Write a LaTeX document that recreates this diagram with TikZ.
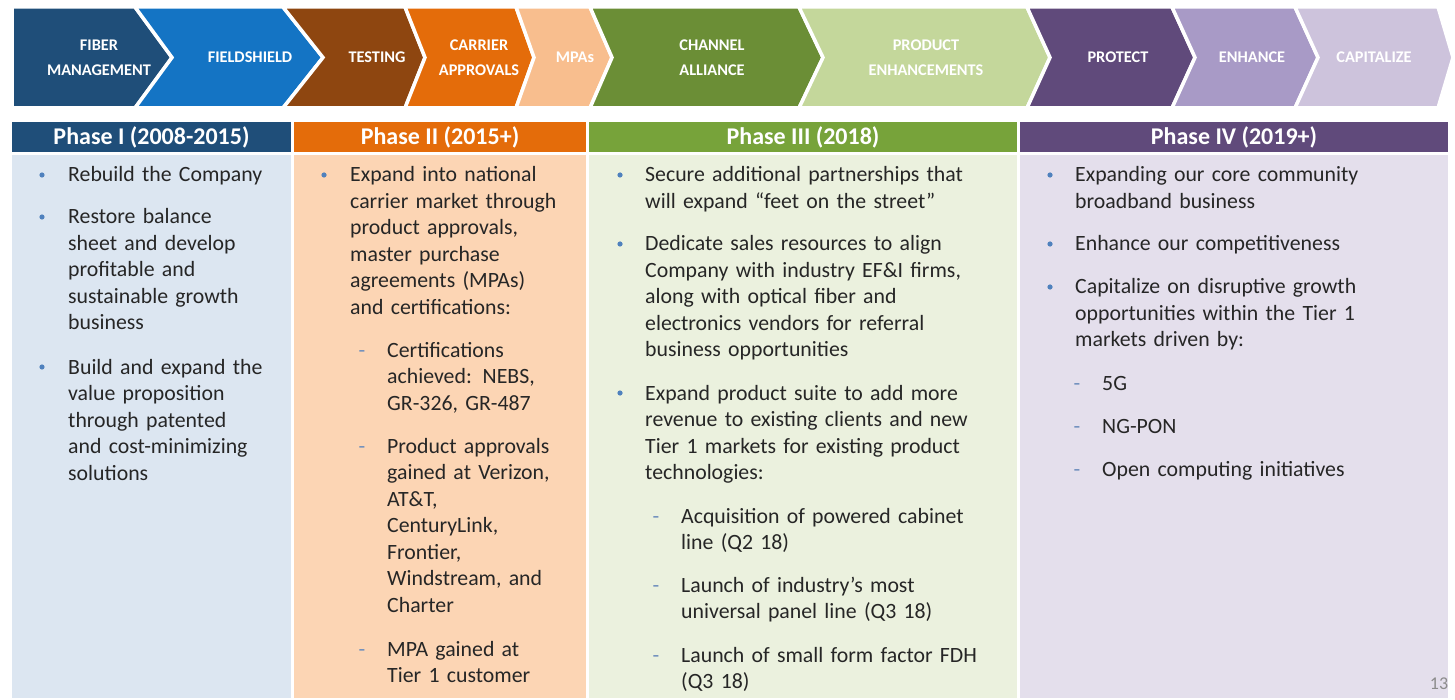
\documentclass[tikz,border=0pt]{standalone}
\usepackage{fontspec}
\setmainfont{Carlito}
\definecolor{cA}{HTML}{1F4E79}
\definecolor{cB}{HTML}{1474C4}
\definecolor{cC}{HTML}{8E4610}
\definecolor{cD}{HTML}{E46C0A}
\definecolor{cE}{HTML}{F8BE8E}
\definecolor{cF}{HTML}{6B8E36}
\definecolor{cG}{HTML}{C4D79B}
\definecolor{cH}{HTML}{604A7B}
\definecolor{cI}{HTML}{A89AC6}
\definecolor{cJ}{HTML}{CDC3DC}
\definecolor{hA}{HTML}{1F4E79}
\definecolor{hB}{HTML}{E46C0A}
\definecolor{hC}{HTML}{77A33A}
\definecolor{hD}{HTML}{604A7B}
\definecolor{bA}{HTML}{DCE6F1}
\definecolor{bB}{HTML}{FCD5B4}
\definecolor{bC}{HTML}{EBF1DE}
\definecolor{bD}{HTML}{E4DFEC}
\definecolor{txtc}{HTML}{262626}
\definecolor{dotc}{HTML}{4F81BD}
\definecolor{dashc}{HTML}{6F8FBD}
\definecolor{pgc}{HTML}{8C8C8C}
\begin{document}
\begin{tikzpicture}[x=1pt,y=-1pt,
  chev/.style={draw=white,line width=3.5pt,line join=miter},
  chevlbl/.style={text=white,font=\fontsize{16.3}{25}\selectfont\bfseries,align=center,inner sep=0pt},
  headlbl/.style={text=white,font=\fontsize{24}{26}\selectfont\bfseries,inner sep=0pt},
  body/.style={text=txtc,font=\fontsize{21.8}{26.5}\selectfont,anchor=base west,inner sep=0pt,text width=400pt,align=left},
  dot/.style={circle,fill=dotc,minimum size=5.2pt,inner sep=0pt},
  dashm/.style={text=dashc,font=\fontsize{21.8}{26.5}\selectfont,anchor=base,inner sep=0pt}]
\useasboundingbox (0,0) rectangle (1455,700);
\fill[white] (0,0) rectangle (1455,700);
% chevrons
\def\T{7}\def\M{57.5}\def\B{108}
\fill[cA,chev] (12,\T) -- (135,\T) -- (172,\M) -- (135,\B) -- (12,\B) -- cycle;
\fill[cB,chev] (135,\T) -- (283,\T) -- (323,\M) -- (283,\B) -- (135,\B) -- (172,\M) -- cycle;
\fill[cC,chev] (283,\T) -- (405,\T) -- (425,\M) -- (405,\B) -- (283,\B) -- (323,\M) -- cycle;
\fill[cD,chev] (405,\T) -- (516,\T) -- (534,\M) -- (516,\B) -- (405,\B) -- (425,\M) -- cycle;
\fill[cE,chev] (516,\T) -- (590,\T) -- (612,\M) -- (590,\B) -- (516,\B) -- (534,\M) -- cycle;
\fill[cF,chev] (590,\T) -- (799,\T) -- (823,\M) -- (799,\B) -- (590,\B) -- (612,\M) -- cycle;
\fill[cG,chev] (799,\T) -- (1027,\T) -- (1050,\M) -- (1027,\B) -- (799,\B) -- (823,\M) -- cycle;
\fill[cH,chev] (1027,\T) -- (1172,\T) -- (1195,\M) -- (1172,\B) -- (1027,\B) -- (1050,\M) -- cycle;
\fill[cI,chev] (1172,\T) -- (1295,\T) -- (1318,\M) -- (1295,\B) -- (1172,\B) -- (1195,\M) -- cycle;
\fill[cJ,chev] (1295,\T) -- (1438,\T) -- (1453,\M) -- (1438,\B) -- (1295,\B) -- (1318,\M) -- cycle;
\node[chevlbl] (k1) at (99,57.5) {FIBER\\MANAGEMENT};
\node[chevlbl] (k2) at (250,57.5) {FIELDSHIELD};
\node[chevlbl] (k3) at (377,57.5) {TESTING};
\node[chevlbl] (k4) at (479,57.5) {CARRIER\\APPROVALS};
\node[chevlbl] (k5) at (575,57.5) {MPAs};
\node[chevlbl] (k6) at (712,57.5) {CHANNEL\\ALLIANCE};
\node[chevlbl] (k7) at (926,57.5) {PRODUCT\\ENHANCEMENTS};
\node[chevlbl] (k8) at (1118,57.5) {PROTECT};
\node[chevlbl] (k9) at (1252,57.5) {ENHANCE};
\node[chevlbl] (k10) at (1374,57.5) {CAPITALIZE};
% headers
\fill[hA] (12,122) rectangle (291,152);
\fill[hB] (294,122) rectangle (586,152);
\fill[hC] (589,122) rectangle (1017,152);
\fill[hD] (1020,122) rectangle (1448,152);
\node[headlbl] (h1) at (151.5,137) {Phase I (2008-2015)};
\node[headlbl] (h2) at (440,137) {Phase II (2015+)};
\node[headlbl] (h3) at (803,137) {Phase III (2018)};
\node[headlbl] (h4) at (1234,137) {Phase IV (2019+)};
% bodies
\fill[bA] (12,155) rectangle (291,698);
\fill[bB] (294,155) rectangle (586,698);
\fill[bC] (589,155) rectangle (1017,698);
\fill[bD] (1020,155) rectangle (1448,698);
% Phase I
\node[dot] (d11) at (42,175) {};
\node[body] (t11) at (68,182) {Rebuild the Company};
\node[dot] (d12) at (42,217) {};
\node[body] (t12) at (68,224) {Restore balance\\sheet and develop\\profitable and\\sustainable growth\\business};
\node[dot] (d13) at (42,367) {};
\node[body] (t13) at (68,374) {Build and expand the\\value proposition\\through patented\\and cost-minimizing\\solutions};
% Phase II
\node[dot] (d21) at (324,175) {};
\node[body] (t21) at (350,182) {Expand into national\\carrier market through\\product approvals,\\master purchase\\agreements (MPAs)\\and certifications:};
\node[dashm] (s21) at (362,357) {-};
\node[body] (u21) at (387,357) {Certifications\\achieved: NEBS,\\GR-326, GR-487};
\node[dashm] (s22) at (362,453) {-};
\node[body] (u22) at (387,453) {Product approvals\\gained at Verizon,\\AT\&T,\\CenturyLink,\\Frontier,\\Windstream, and\\Charter};
\node[dashm] (s23) at (362,656) {-};
\node[body] (u23) at (387,656) {MPA gained at\\Tier 1 customer};
% Phase III
\node[dot] (d31) at (620,175) {};
\node[body] (t31) at (645,182) {Secure additional partnerships that\\will expand “feet on the street”};
\node[dot] (d32) at (620,244) {};
\node[body] (t32) at (645,251) {Dedicate sales resources to align\\Company with industry EF\&I firms,\\along with optical fiber and\\electronics vendors for referral\\business opportunities};
\node[dot] (d33) at (620,393) {};
\node[body] (t33) at (645,400) {Expand product suite to add more\\revenue to existing clients and new\\Tier 1 markets for existing product\\technologies:};
\node[dashm] (s31) at (656,523) {-};
\node[body] (u31) at (681,523) {Acquisition of powered cabinet\\line (Q2 18)};
\node[dashm] (s32) at (656,592) {-};
\node[body] (u32) at (681,592) {Launch of industry’s most\\universal panel line (Q3 18)};
\node[dashm] (s33) at (656,662) {-};
\node[body] (u33) at (681,662) {Launch of small form factor FDH\\(Q3 18)};
% Phase IV
\node[dot] (d41) at (1050,175) {};
\node[body] (t41) at (1075,182) {Expanding our core community\\broadband business};
\node[dot] (d42) at (1050,244) {};
\node[body] (t42) at (1075,251) {Enhance our competitiveness};
\node[dot] (d43) at (1050,287) {};
\node[body] (t43) at (1075,294) {Capitalize on disruptive growth\\opportunities within the Tier 1\\markets driven by:};
\node[dashm] (s41) at (1077,390) {-};
\node[body] (u41) at (1102,390) {5G};
\node[dashm] (s42) at (1077,433) {-};
\node[body] (u42) at (1102,433) {NG-PON};
\node[dashm] (s43) at (1077,476) {-};
\node[body] (u43) at (1102,476) {Open computing initiatives};
% page number
\node[text=pgc,font=\fontsize{18}{20}\selectfont,inner sep=0pt] (pg) at (1439,684) {13};
\end{tikzpicture}
\end{document}
